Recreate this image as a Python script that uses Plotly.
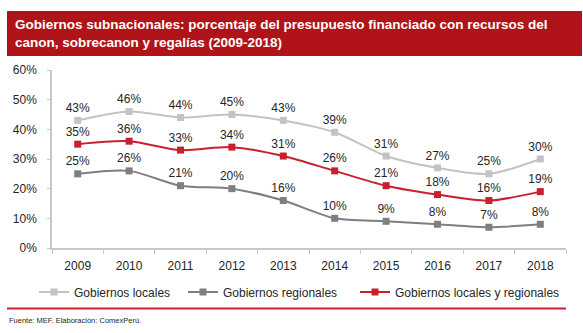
import plotly.graph_objects as go

years = ["2009", "2010", "2011", "2012", "2013", "2014", "2015", "2016", "2017", "2018"]
locales = [43, 46, 44, 45, 43, 39, 31, 27, 25, 30]
regionales = [25, 26, 21, 20, 16, 10, 9, 8, 7, 8]
total = [35, 36, 33, 34, 31, 26, 21, 18, 16, 19]

W, H = 583, 333
L, R, T, B = 52, 17, 70, 85
x0p, x1p = L, W - R
y0p, y1p = H - B, T

def px(x):
    return (x - x0p) / (x1p - x0p)

def py(y):
    return (y0p - y) / (y0p - y1p)

FONT = "Liberation Sans, Arial"
fig = go.Figure()
series = [
    ("Gobiernos locales", locales, "#C3C3C3", "legend", 34),
    ("Gobiernos regionales", regionales, "#7F7F7F", "legend2", 183),
    ("Gobiernos locales y regionales", total, "#C8202F", "legend3", 355),
]
legends = {}
for name, vals, col, leg, lx in series:
    fig.add_trace(go.Scatter(
        x=years, y=vals, name=name, mode="lines+markers+text", legend=leg,
        line=dict(color=col, width=2, shape="spline", smoothing=0.8),
        marker=dict(symbol="square", size=7, color=col),
        text=[f"{v}%" for v in vals], textposition="top center",
        textfont=dict(family=FONT, size=12, color="#262626"),
        cliponaxis=False,
    ))
    legends[leg] = dict(orientation="h", x=px(lx), y=py(292), xanchor="left", yanchor="middle",
                        bgcolor="rgba(0,0,0,0)", font=dict(family=FONT, size=12, color="#262626"),
                        itemwidth=30)

fig.update_layout(
    width=W, height=H, margin=dict(l=L, r=R, t=T, b=B),
    paper_bgcolor="white", plot_bgcolor="white",
    font=dict(family=FONT, size=12, color="#262626"),
    showlegend=True,
    **legends,
    xaxis=dict(type="category", showline=True, linecolor="#C8C8C8", linewidth=1.5,
               ticks="outside", tickson="boundaries", ticklen=4, tickcolor="#C8C8C8",
               showgrid=False, range=[-0.5, 9.5], tickfont=dict(size=12),
               ticklabelstandoff=6),
    yaxis=dict(range=[0, 60], dtick=10, ticksuffix="%", showline=True, linecolor="#C8C8C8",
               linewidth=1.5, ticks="outside", ticklen=3, tickcolor="#C8C8C8",
               showgrid=False, zeroline=False, tickfont=dict(size=12),
               ticklabelstandoff=8),
)

fig.add_shape(type="rect", xref="paper", yref="paper",
              x0=px(7), x1=px(582), y0=py(11), y1=py(56),
              fillcolor="#B01318", line=dict(width=0), layer="above")
fig.add_annotation(xref="paper", yref="paper", x=px(13), y=py(34), xanchor="left", yanchor="middle",
                   align="left", showarrow=False,
                   text="<b>Gobiernos subnacionales: porcentaje del presupuesto financiado con recursos del<br>canon, sobrecanon y regalías (2009-2018)</b>",
                   font=dict(family=FONT, size=13.5, color="white"))
fig.add_shape(type="line", xref="paper", yref="paper",
              x0=px(7), x1=px(566), y0=py(308.5), y1=py(308.5),
              line=dict(color="#C8202F", width=2))
fig.add_annotation(xref="paper", yref="paper", x=px(7), y=py(320), xanchor="left", yanchor="middle",
                   showarrow=False, text="Fuente: MEF. Elaboración: ComexPerú.",
                   font=dict(family=FONT, size=7.5, color="#262626"))

fig.write_html("out.html")
